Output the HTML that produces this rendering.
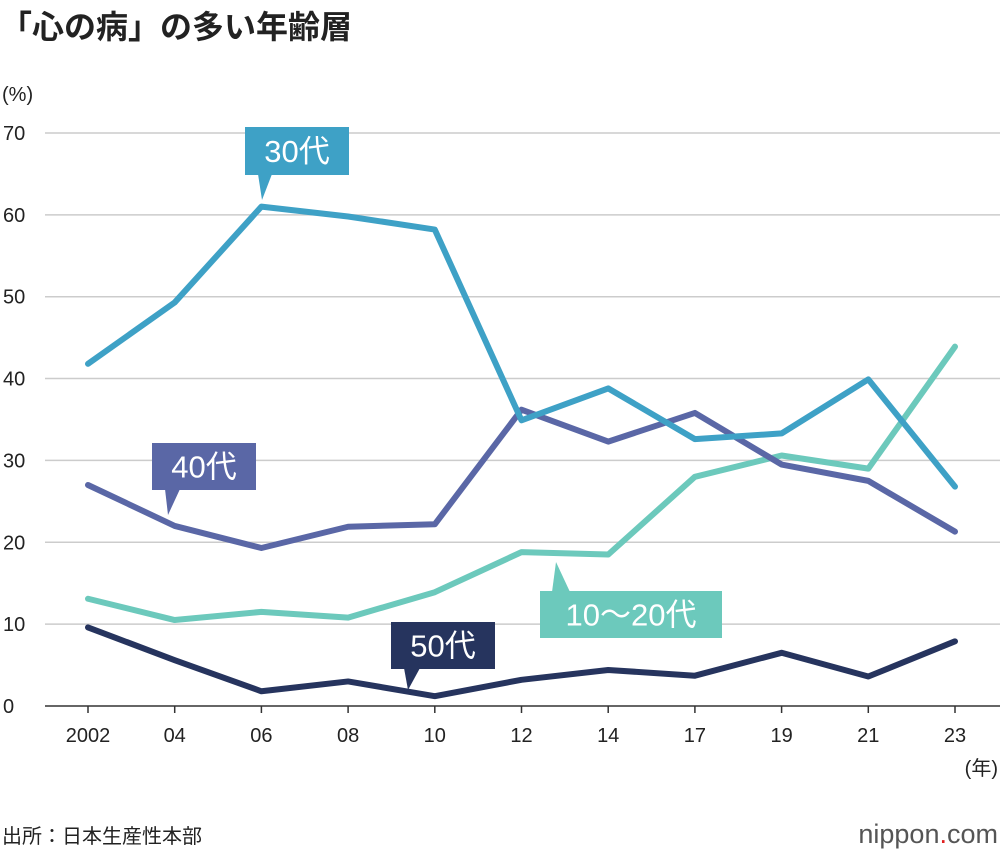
<!DOCTYPE html>
<html><head><meta charset="utf-8"><style>
body{margin:0;background:#fff;font-family:"Liberation Sans","Noto Sans CJK JP",sans-serif;}
svg text{font-family:"Liberation Sans","Noto Sans CJK JP",sans-serif;}
</style></head><body>
<svg id="c" width="1000" height="856" viewBox="0 0 1000 856">
<text x="0" y="38" font-size="32" font-weight="bold" fill="#222">「心の病」の多い年齢層</text>
<text x="2" y="101" font-size="20" fill="#222">(%)</text>
<g id="grid"></g><g id="lines"></g><g id="labels"></g>
<text x="998" y="775" font-size="20" fill="#222" text-anchor="end">(年)</text>
<text x="2" y="843" font-size="20" fill="#222">出所：日本生産性本部</text>
<text x="998" y="843" font-size="27" fill="#555" text-anchor="end">nippon<tspan fill="#e02020">.</tspan>com</text>
</svg>
<script>
const categories=["2002","04","06","08","10","12","14","17","19","21","23"];
const yTicks=[0,10,20,30,40,50,60,70];
const s30=[41.8,49.3,61.0,59.8,58.2,34.9,38.8,32.6,33.3,39.9,26.8];
const s40=[27.0,22.0,19.3,21.9,22.2,36.2,32.3,35.8,29.5,27.5,21.3];
const s1020=[13.1,10.5,11.5,10.8,13.9,18.8,18.5,28.0,30.6,29.0,43.9];
const s50=[9.6,5.6,1.8,3.0,1.2,3.2,4.4,3.7,6.5,3.6,7.9];
const NS="http://www.w3.org/2000/svg";
const x=i=>88+i*86.7, y=v=>706-v*8.186;
function mk(t,a,p){const e=document.createElementNS(NS,t);for(const k in a)e.setAttribute(k,a[k]);p.appendChild(e);return e;}
const g=document.getElementById('grid');
yTicks.forEach(t=>{
 const l=mk('line',{x1:45,x2:1000,y1:y(t),y2:y(t),stroke:t===0?'#333':'#ccc','stroke-width':1.5},g);
 
 
 const tx=mk('text',{x:3,y:y(t)+7,'font-size':20,fill:'#222'},g);tx.textContent=t;
 
 
});
categories.forEach((c,i)=>{
 const tk=mk('line',{x1:x(i),x2:x(i),y1:706,y2:713,stroke:'#333','stroke-width':1.5},g);
 
 
 const tx=mk('text',{x:x(i),y:742,'font-size':20,fill:'#222','text-anchor':'middle'},g);tx.textContent=c;
 
 
});
const L=document.getElementById('lines');
[[s50,'#26345e','line-50s'],[s1020,'#6cc9bc','line-10-20s'],[s40,'#5a67a6','line-40s'],[s30,'#3ea1c6','line-30s']].forEach(([d,c,n])=>{
 const p=mk('polyline',{points:d.map((v,i)=>x(i)+','+y(v)).join(' '),fill:'none',stroke:c,'stroke-width':6,'stroke-linejoin':'round','stroke-linecap':'round'},L);
 
 
});
const LB=document.getElementById('labels');
function label(n,txt,bx,by,bw,bh,c,pts){
 const gg=mk('g',{},LB);
 
 
 mk('polygon',{points:pts,fill:c},gg);
 mk('rect',{x:bx,y:by,width:bw,height:bh,fill:c},gg);
 const t=mk('text',{x:bx+bw/2,y:by+bh/2+11,'font-size':31,fill:'#fff','text-anchor':'middle'},gg);t.textContent=txt;
}
label('label-30s','30代',245,127,104,48,'#3ea1c6','258,174 272,174 262,200');
label('label-40s','40代',152,443,104,47,'#5a67a6','165,489 180,489 168,515');
label('label-10-20s','10〜20代',540,591,182,47,'#6cc9bc','552,592 570,592 556,562');
label('label-50s','50代',391,622,104,47,'#26345e','404,668 420,668 408,690');
</script>
</body></html>
